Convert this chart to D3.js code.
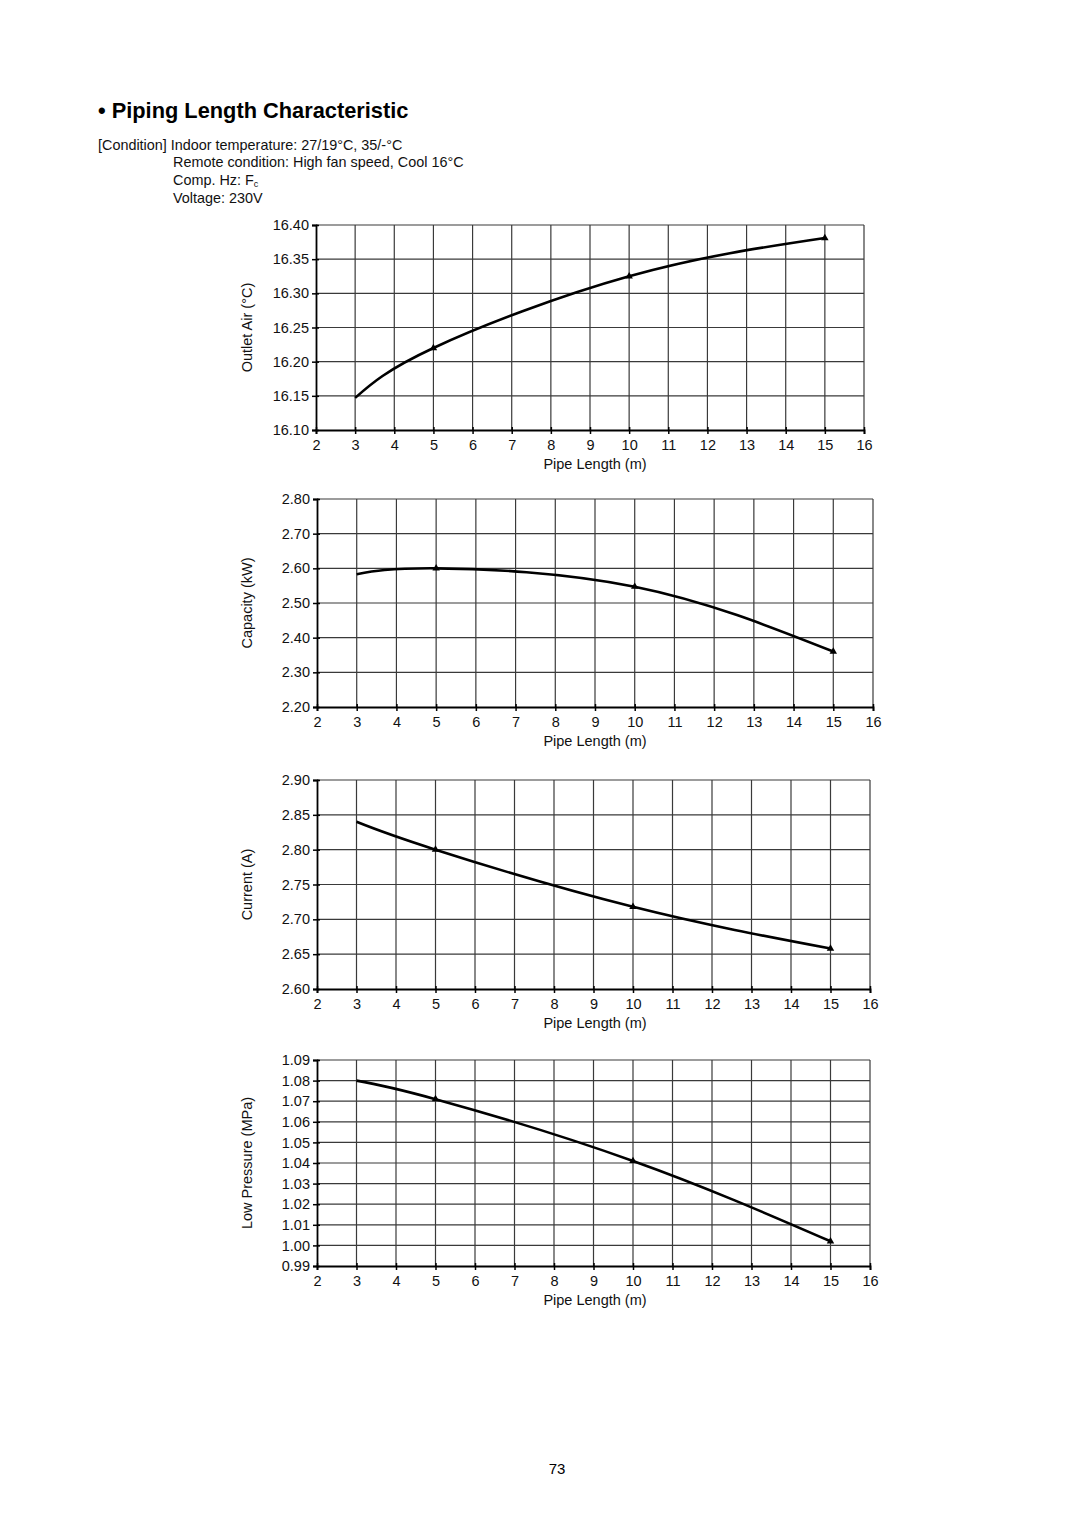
<!DOCTYPE html>
<html><head><meta charset="utf-8">
<script src="https://cdn.jsdelivr.net/npm/d3@7"></script>
<style>
body{margin:0;background:#fff;}
svg{display:block;font-family:"Liberation Sans",Arial,Helvetica,sans-serif;}
</style></head>
<body>
<svg id="c" width="1080" height="1527"></svg>
<script>
const pipeLength = [3, 5, 10, 15];
const outletAir = [16.147, 16.220, 16.325, 16.381];
const capacity = [2.583, 2.600, 2.547, 2.360];
const current = [2.840, 2.800, 2.718, 2.658];
const lowPressure = [1.080, 1.071, 1.041, 1.002];

const xTicks = [2,3,4,5,6,7,8,9,10,11,12,13,14,15,16];
const outletTicks = [16.10,16.15,16.20,16.25,16.30,16.35,16.40];
const capacityTicks = [2.20,2.30,2.40,2.50,2.60,2.70,2.80];
const currentTicks = [2.60,2.65,2.70,2.75,2.80,2.85,2.90];
const pressureTicks = [0.99,1.00,1.01,1.02,1.03,1.04,1.05,1.06,1.07,1.08,1.09];

const svg = d3.select("#c");

// Title and conditions
svg.append("text").attr("x",98).attr("y",118).attr("font-size",21.8).attr("font-weight","bold")
  .text("• Piping Length Characteristic");
const cond = svg.append("g").attr("font-size",14.4).attr("fill","#111");
cond.append("text").attr("x",98).attr("y",150).text("[Condition] Indoor temperature: 27/19°C, 35/-°C");
cond.append("text").attr("x",173).attr("y",167).text("Remote condition: High fan speed, Cool 16°C");
const ch = cond.append("text").attr("x",173).attr("y",185).text("Comp. Hz: F");
ch.append("tspan").attr("font-size",9).attr("dy",2).text("c");
cond.append("text").attr("x",173).attr("y",203).text("Voltage: 230V");

svg.append("text").attr("x",557).attr("y",1474).attr("text-anchor","middle").attr("font-size",15).text("73");

const charts = [
  {vals: outletAir, ticks: outletTicks, fmt: d3.format(".2f"), label: "Outlet Air (°C)",
   left:316, right:864, top:225, bottom:430},
  {vals: capacity, ticks: capacityTicks, fmt: d3.format(".2f"), label: "Capacity (kW)",
   left:317, right:873, top:499, bottom:707},
  {vals: current, ticks: currentTicks, fmt: d3.format(".2f"), label: "Current (A)",
   left:317, right:870, top:780, bottom:989},
  {vals: lowPressure, ticks: pressureTicks, fmt: d3.format(".2f"), label: "Low Pressure (MPa)",
   left:317, right:870, top:1060, bottom:1266}
];

charts.forEach(c => {
  const g = svg.append("g");
  const x = d3.scaleLinear().domain([2,16]).range([c.left, c.right]);
  const y = d3.scaleLinear().domain([c.ticks[0], c.ticks[c.ticks.length-1]]).range([c.bottom, c.top]);

  // grid
  g.append("g").selectAll("line.v").data(xTicks.slice(1)).join("line")
    .attr("x1", d=>x(d)).attr("x2", d=>x(d)).attr("y1", c.top).attr("y2", c.bottom)
    .attr("stroke","#3a3a3a").attr("stroke-width",1.2);
  g.append("g").selectAll("line.h").data(c.ticks.slice(1)).join("line")
    .attr("x1", c.left).attr("x2", c.right).attr("y1", d=>y(d)).attr("y2", d=>y(d))
    .attr("stroke","#3a3a3a").attr("stroke-width",1.2);

  // axes
  const ya = g.append("g").attr("transform",`translate(${c.left},0)`)
    .call(d3.axisLeft(y).tickValues(c.ticks).tickFormat(c.fmt).tickSize(4).tickPadding(3));
  const xa = g.append("g").attr("transform",`translate(0,${c.bottom})`)
    .call(d3.axisBottom(x).tickValues(xTicks).tickFormat(d3.format("d")).tickSize(4).tickPadding(6));
  [ya, xa].forEach(a => {
    a.select(".domain").attr("stroke","#000").attr("stroke-width",1.8);
    a.selectAll(".tick line").attr("stroke","#000").attr("stroke-width",1.5);
    a.selectAll("text").attr("font-size",14.5).attr("fill","#111")
      .style("font-family",'"Liberation Sans",Arial,sans-serif');
  });
  ya.selectAll(".tick line").attr("x1",3);
  xa.selectAll(".tick line").attr("y1",-3);

  // labels
  g.append("text").attr("x",595).attr("y",c.bottom+39).attr("text-anchor","middle")
    .attr("font-size",14.5).attr("fill","#111").text("Pipe Length (m)");
  g.append("text").attr("transform",`translate(252,${(c.top+c.bottom)/2}) rotate(-90)`)
    .attr("text-anchor","middle").attr("font-size",14.5).attr("fill","#111").text(c.label);

  // curve
  const pts = pipeLength.map((p,i)=>[p, c.vals[i]]);
  g.append("path").datum(pts)
    .attr("d", d3.line().x(d=>x(d[0])).y(d=>y(d[1])).curve(d3.curveNatural))
    .attr("fill","none").attr("stroke","#000").attr("stroke-width",2.6);
  g.append("g").selectAll("path").data(pts.slice(1)).join("path")
    .attr("d", d3.symbol(d3.symbolTriangle, 24)())
    .attr("transform", d=>`translate(${x(d[0])},${y(d[1])})`)
    .attr("fill","#000");
});
</script>
</body></html>
